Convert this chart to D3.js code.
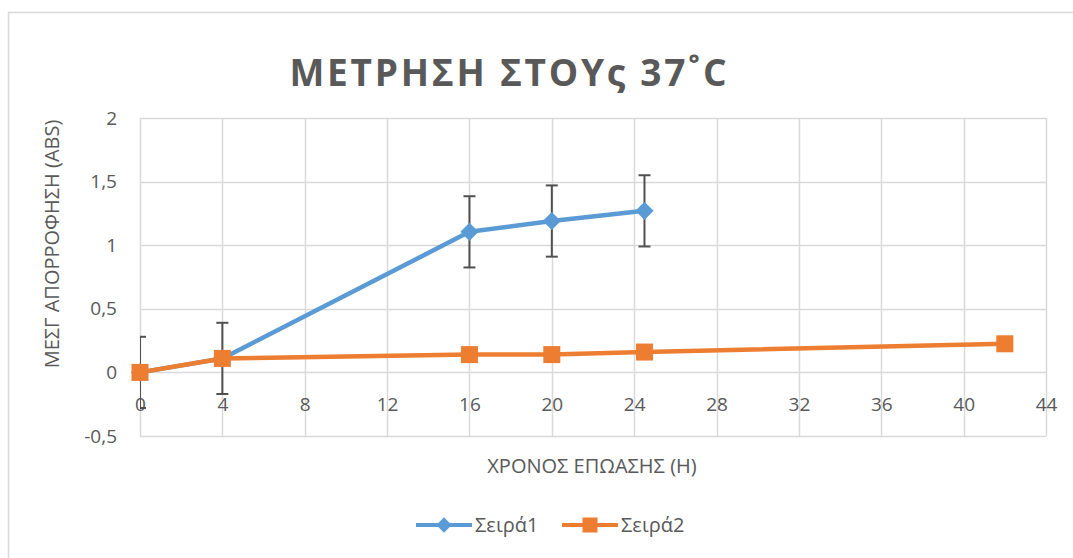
<!DOCTYPE html>
<html>
<head>
<meta charset="utf-8">
<script src="https://cdn.jsdelivr.net/npm/d3@7"></script>
<style>
  html, body { margin: 0; padding: 0; background: #fff; }
  svg { display: block; }
  text { font-family: "Open Sans", "Noto Sans", sans-serif; fill: #595959; }
</style>
</head>
<body>
<svg id="chart" width="1073" height="558"></svg>
<script>
// ---- data ----
const title = "ΜΕΤΡΗΣΗ ΣΤΟΥς 37˚C";
const xTitle = "ΧΡΟΝΟΣ ΕΠΩΑΣΗΣ (Η)";
const yTitle = "ΜΕΣΓ ΑΠΟΡΡΟΦΗΣΗ (ABS)";
const seriesNames = ["Σειρά1", "Σειρά2"];
const s1x = [0, 4, 16, 20, 24.5];
const s1y = [0, 0.11, 1.105, 1.19, 1.27];
const s1err = [0.28, 0.28, 0.28, 0.28, 0.28];
const s2x = [0, 4, 16, 20, 24.5, 42];
const s2y = [0, 0.11, 0.14, 0.14, 0.16, 0.225];
const xTicks = [0, 4, 8, 12, 16, 20, 24, 28, 32, 36, 40, 44];
const yTicks = [-0.5, 0, 0.5, 1, 1.5, 2];

// ---- layout ----
const svg = d3.select("#chart");
const W = 1073, H = 558;
const plot = { left: 140, right: 1046, top: 118, bottom: 436 };
const blue = "#5B9BD5", orange = "#ED7D31", grid = "#D9D9D9";

const x = d3.scaleLinear().domain([0, 44]).range([plot.left, plot.right]);
const y = d3.scaleLinear().domain([-0.5, 2]).range([plot.bottom, plot.top]);

// chart border
svg.append("rect").attr("x", 8.5).attr("y", 12.5).attr("width", W + 20).attr("height", H + 20)
  .attr("fill", "#fff").attr("stroke", "#D9D9D9").attr("stroke-width", 1.5);

// title
const t = svg.append("text").attr("x", 508).attr("y", 86).attr("text-anchor", "middle")
  .attr("font-size", 37).attr("font-weight", "bold").style("fill", "#595959").text(title);
{
  const target = 437;
  const w = t.node().getComputedTextLength();
  const n = title.length - 1;
  const ls = (target - w) / n;
  t.style("letter-spacing", ls + "px").attr("x", 508 + ls / 2);
}

// gridlines
const g = svg.append("g");
g.selectAll("line.h").data(yTicks).join("line")
  .attr("x1", plot.left).attr("x2", plot.right)
  .attr("y1", d => Math.round(y(d)) + 0.5).attr("y2", d => Math.round(y(d)) + 0.5)
  .attr("stroke", grid).attr("stroke-width", 1.5);
g.selectAll("line.v").data(xTicks).join("line")
  .attr("y1", plot.top).attr("y2", plot.bottom)
  .attr("x1", d => Math.round(x(d)) + 0.5).attr("x2", d => Math.round(x(d)) + 0.5)
  .attr("stroke", grid).attr("stroke-width", 1.5);

// axes via d3 (labels only)
const yAxis = d3.axisLeft(y).tickValues(yTicks).tickSize(0).tickPadding(0)
  .tickFormat(d => String(d).replace(".", ","));
const ya = svg.append("g").attr("transform", `translate(${plot.left - 23},0)`).call(yAxis);
ya.select(".domain").remove();
ya.selectAll("text").attr("font-size", 19).style("font-family", "Open Sans").style("fill", "#595959");

const xAxis = d3.axisBottom(x).tickValues(xTicks).tickSize(0).tickPadding(0).tickFormat(d => d);
const xa = svg.append("g").attr("transform", `translate(0,${y(0) + 25})`).call(xAxis);
xa.select(".domain").remove();
xa.selectAll("text").attr("font-size", 19).style("font-family", "Open Sans").style("fill", "#595959");

// axis titles
svg.append("text").attr("x", 592).attr("y", 473).attr("text-anchor", "middle")
  .attr("font-size", 20).text(xTitle);
svg.append("text").attr("transform", "translate(59,244) rotate(-90)").attr("text-anchor", "middle")
  .attr("font-size", 20).text(yTitle);

// clip
svg.append("clipPath").attr("id", "clip").append("rect")
  .attr("x", plot.left).attr("y", plot.top - 20).attr("width", plot.right - plot.left + 30)
  .attr("height", plot.bottom - plot.top + 40);

const layer = svg.append("g");
const line = d3.line().x(d => x(d[0])).y(d => y(d[1]));
const s1 = s1x.map((v, i) => [v, s1y[i], s1err[i]]);
const s2 = s2x.map((v, i) => [v, s2y[i]]);

// series 1 line
layer.append("path").datum(s1).attr("d", line).attr("fill", "none")
  .attr("stroke", blue).attr("stroke-width", 4.5).attr("stroke-linejoin", "round");

// error bars
const eb = layer.append("g").attr("clip-path", "url(#clip)").attr("stroke", "#505050").attr("stroke-width", 2);
s1.forEach(d => {
  const cx = x(d[0]), y1 = y(d[1] + d[2]), y2 = y(d[1] - d[2]);
  eb.append("line").attr("x1", cx).attr("x2", cx).attr("y1", y1).attr("y2", y2);
  eb.append("line").attr("x1", cx - 6).attr("x2", cx + 6).attr("y1", y1).attr("y2", y1);
  eb.append("line").attr("x1", cx - 6).attr("x2", cx + 6).attr("y1", y2).attr("y2", y2);
});

// series 1 markers (diamonds)
layer.selectAll("path.dia").data(s1).join("path")
  .attr("d", d3.symbol(d3.symbolDiamond2, 210))
  .attr("transform", d => `translate(${x(d[0])},${y(d[1])})`)
  .attr("fill", blue);

// series 2 line & markers
layer.append("path").datum(s2).attr("d", line).attr("fill", "none")
  .attr("stroke", orange).attr("stroke-width", 4.5).attr("stroke-linejoin", "round");
layer.selectAll("rect.sq").data(s2).join("rect")
  .attr("x", d => x(d[0]) - 8.5).attr("y", d => y(d[1]) - 8.5)
  .attr("width", 17).attr("height", 17).attr("fill", orange);

// legend
const lg = svg.append("g");
const items = [
  { name: seriesNames[0], color: blue, x0: 416, shape: "diamond" },
  { name: seriesNames[1], color: orange, x0: 562, shape: "square" }
];
items.forEach(it => {
  const ly = 525;
  lg.append("line").attr("x1", it.x0).attr("x2", it.x0 + 56).attr("y1", ly).attr("y2", ly)
    .attr("stroke", it.color).attr("stroke-width", 4);
  if (it.shape === "diamond") {
    lg.append("path").attr("d", d3.symbol(d3.symbolDiamond2, 150))
      .attr("transform", `translate(${it.x0 + 28},${ly})`).attr("fill", it.color);
  } else {
    lg.append("rect").attr("x", it.x0 + 28 - 7.5).attr("y", ly - 7.5).attr("width", 15).attr("height", 15)
      .attr("fill", it.color);
  }
  lg.append("text").attr("x", it.x0 + 59).attr("y", ly + 7).attr("font-size", 20).text(it.name);
});
</script>
</body>
</html>
